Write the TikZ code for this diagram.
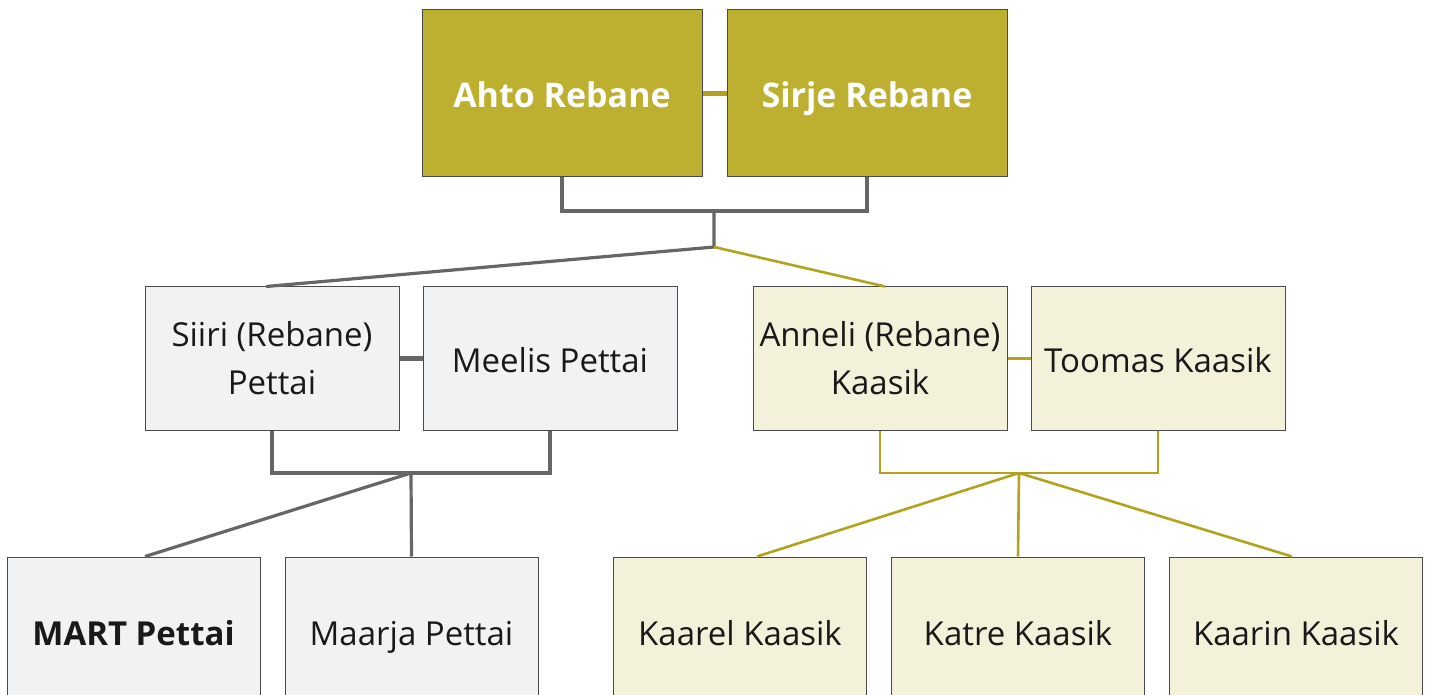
\documentclass[tikz,border=0pt]{standalone}
\usepackage{fontspec}
\setmainfont{Open Sans}
\definecolor{olivedark}{HTML}{BDAF2F}
\definecolor{oliveline}{HTML}{B3A31C}
\definecolor{olivepale}{HTML}{F4F1DA}
\definecolor{graypale}{HTML}{F1F2F4}
\definecolor{grayline}{HTML}{666666}
\definecolor{boxedge}{HTML}{4A4A4A}
\tikzset{
  person/.style={draw=boxedge,line width=.5pt,align=center,inner sep=0pt,
    font=\fontsize{16.5}{24}\selectfont,text=black!90},
  oneline/.style={text height=16.5pt,text depth=2.5pt},
  toprow/.style={person,oneline,fill=olivedark,minimum width=140pt,minimum height=83.5pt,
    text=white,font=\fontsize{17}{24}\selectfont\bfseries},
  midrow/.style={minimum width=127pt,minimum height=71.5pt},
  lowrow/.style={oneline,minimum width=126.5pt,minimum height=74pt},
  graybox/.style={person,fill=graypale},
  olivebox/.style={person,fill=olivepale},
  grayconn/.style={draw=grayline,line width=1.6pt},
  oliveconn/.style={draw=oliveline,line width=1.3pt}
}
\begin{document}
\begin{tikzpicture}[x=0.5pt,y=-0.5pt]
\useasboundingbox (0,0) rectangle (1430,695);
% parents
\node[toprow] (ahto) at (562,93.5) {Ahto Rebane};
\node[toprow] (sirje) at (867,93.5) {Sirje Rebane};
\draw[draw=oliveline,line width=2.2pt] (ahto) -- (sirje);
% children
\node[graybox,midrow] (siiri) at (272,358.5) {Siiri (Rebane)\\Pettai};
\node[graybox,midrow,oneline] (meelis) at (550,358.5) {Meelis Pettai};
\node[olivebox,midrow] (anneli) at (880,358.5) {Anneli (Rebane)\\Kaasik};
\node[olivebox,midrow,oneline] (toomas) at (1158,358.5) {Toomas Kaasik};
\draw[grayconn,line width=2.2pt] (siiri) -- (meelis);
\draw[oliveconn] (anneli) -- (toomas);
% grandchildren
\node[graybox,lowrow] (mart) at (133.5,631) {\bfseries MART Pettai};
\node[graybox,lowrow] (maarja) at (411.5,631) {Maarja Pettai};
\node[olivebox,lowrow] (kaarel) at (740,631) {Kaarel Kaasik};
\node[olivebox,lowrow] (katre) at (1018,631) {Katre Kaasik};
\node[olivebox,lowrow] (kaarin) at (1296,631) {Kaarin Kaasik};
% junctions
\coordinate (rebane) at (714,211);
\coordinate (rebanekids) at (714,247);
\coordinate (pettai) at (411,473);
\coordinate (kaasik) at (1019,473);
\draw[grayconn] (ahto.south) |- (rebane) -| (sirje.south);
\draw[grayconn] (rebane) -- (rebanekids) -- ([xshift=-3pt]siiri.north);
\draw[oliveconn] (rebanekids) -- ([xshift=2.5pt]anneli.north);
\draw[grayconn] (siiri.south) |- (pettai) -| (meelis.south);
\draw[grayconn] (pettai) -- ([xshift=5.75pt]mart.north);
\draw[grayconn] (pettai) -- (maarja.north);
\draw[oliveconn] (anneli.south) |- (kaasik) -| (toomas.south);
\draw[oliveconn] (kaasik) -- ([xshift=8.5pt]kaarel.north);
\draw[oliveconn] (kaasik) -- (katre.north);
\draw[oliveconn] (kaasik) -- ([xshift=-2pt]kaarin.north);
\end{tikzpicture}
\end{document}
